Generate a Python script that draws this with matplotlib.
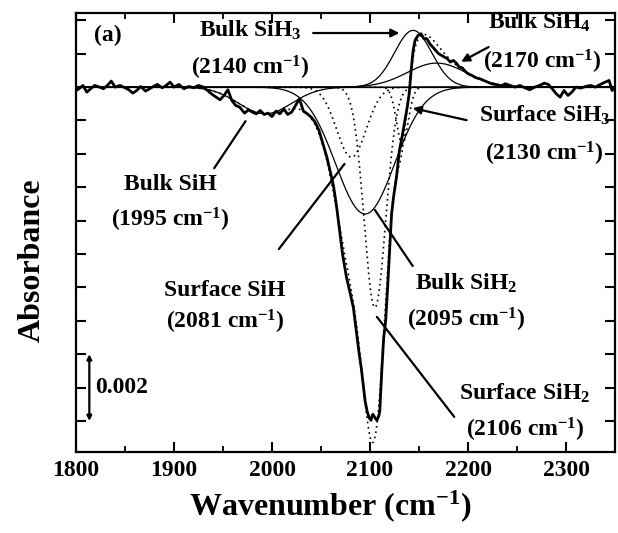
import numpy as np
import matplotlib
matplotlib.use("Agg")
import matplotlib.pyplot as plt
from matplotlib.ticker import MultipleLocator, NullFormatter

plt.rcParams['font.family'] = ['Liberation Serif', 'DejaVu Serif']
plt.rcParams['font.weight'] = 'bold'
plt.rcParams['mathtext.fontset'] = 'custom'
plt.rcParams['mathtext.rm'] = 'Liberation Serif:bold'
plt.rcParams['mathtext.bf'] = 'Liberation Serif:bold'
plt.rcParams['mathtext.it'] = 'Liberation Serif:bold'

# ---- measured spectrum (wavenumber, absorbance in units of 1e-3) ----
wavenumber = [1800, 1803, 1807, 1811, 1815, 1819, 1824, 1828, 1832, 1836, 1840, 1845,
              1850, 1854, 1858, 1862, 1866, 1871, 1875, 1879, 1883, 1888, 1892, 1896,
              1900, 1905, 1910, 1915, 1920, 1925, 1930, 1935, 1939, 1943, 1947, 1951,
              1955, 1959, 1963, 1967, 1972, 1976, 1980, 1984, 1988, 1992, 1996, 2000,
              2004, 2008, 2012, 2016, 2020, 2024, 2028, 2032, 2036, 2040, 2044, 2048,
              2052, 2056, 2060, 2063, 2066, 2069, 2072, 2076, 2080, 2083, 2086, 2089,
              2091, 2093, 2095, 2097, 2099, 2101, 2102, 2103, 2105, 2107, 2109, 2110,
              2112, 2114, 2116, 2118, 2120, 2122, 2124, 2127, 2130, 2133, 2135, 2138,
              2140, 2142, 2144, 2146, 2149, 2152, 2155, 2158, 2161, 2164, 2167, 2170,
              2173, 2176, 2179, 2182, 2185, 2188, 2191, 2194, 2197, 2200, 2204, 2208,
              2212, 2216, 2220, 2224, 2228, 2233, 2238, 2243, 2248, 2253, 2258, 2263,
              2268, 2273, 2278, 2282, 2286, 2290, 2294, 2298, 2302, 2306, 2310, 2315,
              2320, 2325, 2330, 2335, 2340, 2344, 2347, 2350]
absorb_e3 = [-0.10, -0.05, 0.05, -0.15, -0.05, 0.05, 0.00, -0.05, 0.05, 0.18, 0.00, 0.05,
             -0.02, -0.08, -0.18, -0.10, 0.02, -0.12, -0.05, 0.02, 0.08, -0.02, 0.05, 0.15,
             0.00, 0.08, -0.05, 0.02, -0.02, 0.05, 0.00, -0.12, -0.22, -0.30, -0.38, -0.25,
             -0.08, -0.40, -0.55, -0.60, -0.78, -0.68, -0.75, -0.80, -0.70, -0.82, -0.78, -0.88,
             -0.72, -0.80, -0.65, -0.82, -0.75, -0.55, -0.35, -0.72, -0.80, -0.90, -1.05, -1.30,
             -1.70, -2.10, -2.60, -3.00, -3.60, -4.30, -5.00, -5.70, -6.20, -6.60, -7.30, -8.00,
             -8.40, -8.90, -9.40, -9.70, -9.90, -9.98, -9.85, -9.80, -9.90, -9.98, -9.85, -9.70,
             -8.50, -7.50, -7.00, -6.00, -4.90, -3.80, -3.30, -2.70, -1.90, -1.45, -1.10, -0.60,
             -0.20, 0.50, 1.10, 1.40, 1.55, 1.60, 1.45, 1.45, 1.30, 1.20, 1.10, 1.00,
             0.95, 0.90, 0.85, 0.75, 0.80, 0.72, 0.60, 0.58, 0.48, 0.40, 0.35, 0.28,
             0.25, 0.20, 0.15, 0.10, 0.08, 0.02, 0.10, 0.05, 0.00, 0.05, -0.02, -0.08,
             0.00, 0.05, 0.12, 0.08, -0.05, -0.20, -0.30, -0.10, -0.25, -0.15, 0.00, -0.03,
             0.02, 0.05, 0.00, 0.08, 0.15, 0.20, -0.10, -0.05]

# ---- fitted components (centre, amplitude, width) ----
bulk_center = [1993, 2095, 2144, 2168]
bulk_amp = [-0.0008, -0.0038, 0.0017, 0.00072]
bulk_sigma = [27, 30, 19, 30]
surf_center = [2081, 2105, 2133]
surf_amp = [-0.0021, -0.0066, -0.0017]
surf_sigma = [15, 11, 6]

xmin, xmax = 1800, 2350
ymin, ymax = -0.01093, 0.00222

grid = np.linspace(xmin, xmax, 2201)


def gauss(c, a, s):
    return a * np.exp(-(grid - c) ** 2 / (2.0 * s ** 2))


fig = plt.figure(figsize=(6.18, 5.33), dpi=100)
ax = fig.add_axes([76 / 618, (533 - 452) / 533, 539 / 618, 439 / 533])

# zero baseline
ax.axhline(0, color='black', lw=0.9, zorder=1)

total = np.zeros_like(grid)
for c, a, s in zip(bulk_center, bulk_amp, bulk_sigma):
    g = gauss(c, a, s)
    total += g
    ax.plot(grid, g, color='black', lw=0.9, zorder=2)
for c, a, s in zip(surf_center, surf_amp, surf_sigma):
    g = gauss(c, a, s)
    total += g
    ax.plot(grid, g, color='black', lw=1.2, ls=(0, (1, 2.2)), zorder=2)
ax.plot(grid, total, color='black', lw=1.2, ls=(0, (1, 2.2)), zorder=2)

ax.plot(wavenumber, np.array(absorb_e3) * 1e-3, color='black', lw=2.0, zorder=3)

ax.set_xlim(xmin, xmax)
ax.set_ylim(ymin, ymax)
ax.xaxis.set_major_locator(MultipleLocator(100))
ax.xaxis.set_minor_locator(MultipleLocator(50))
ax.yaxis.set_major_locator(MultipleLocator(0.001))
ax.yaxis.set_major_formatter(NullFormatter())
ax.tick_params(axis='both', which='major', direction='in', length=7, width=1.5,
               top=True, right=True, labelsize=17, pad=6)
ax.tick_params(axis='both', which='minor', direction='in', length=4, width=1.3,
               top=True, right=True)
for sp in ax.spines.values():
    sp.set_linewidth(1.6)
for lab in ax.get_xticklabels():
    lab.set_fontweight('bold')

ax.set_xlabel('Wavenumber (cm$^{-1}$)', fontsize=23, fontweight='bold')
ax.set_ylabel('Absorbance', fontsize=23, fontweight='bold')
ax.xaxis.set_label_coords(0.471, -0.082)
ax.yaxis.set_label_coords(-0.055, 0.437)

fs = 17
ax.text(1818, 0.00156, '(a)', fontsize=fs, fontweight='bold', va='center', ha='left')
ax.text(1978, 0.00170, 'Bulk SiH$_3$', fontsize=fs, ha='center', va='center')
ax.text(1978, 0.00057, '(2140 cm$^{-1}$)', fontsize=fs, ha='center', va='center')
ax.text(2273, 0.00195, 'Bulk SiH$_4$', fontsize=fs, ha='center', va='center')
ax.text(2276, 0.00075, '(2170 cm$^{-1}$)', fontsize=fs, ha='center', va='center')
ax.text(2278, -0.00084, 'Surface SiH$_3$', fontsize=fs, ha='center', va='center')
ax.text(2278, -0.00200, '(2130 cm$^{-1}$)', fontsize=fs, ha='center', va='center')
ax.text(1896, -0.00293, 'Bulk SiH', fontsize=fs, ha='center', va='center')
ax.text(1896, -0.00398, '(1995 cm$^{-1}$)', fontsize=fs, ha='center', va='center')
ax.text(1952, -0.00608, 'Surface SiH', fontsize=fs, ha='center', va='center')
ax.text(1952, -0.00704, '(2081 cm$^{-1}$)', fontsize=fs, ha='center', va='center')
ax.text(2198, -0.00587, 'Bulk SiH$_2$', fontsize=fs, ha='center', va='center')
ax.text(2198, -0.00698, '(2095 cm$^{-1}$)', fontsize=fs, ha='center', va='center')
ax.text(2258, -0.00916, 'Surface SiH$_2$', fontsize=fs, ha='center', va='center')
ax.text(2258, -0.01027, '(2106 cm$^{-1}$)', fontsize=fs, ha='center', va='center')

arrow_kw = dict(arrowstyle='-|>', lw=1.6, color='black', mutation_scale=12,
                shrinkA=0, shrinkB=0)
line_kw = dict(arrowstyle='-', lw=1.6, color='black', shrinkA=0, shrinkB=0)
ax.annotate('', xy=(2130, 0.00162), xytext=(2042, 0.00162), arrowprops=arrow_kw)
ax.annotate('', xy=(2193, 0.00076), xytext=(2221, 0.00120), arrowprops=arrow_kw)
ax.annotate('', xy=(2143.6, -0.00063), xytext=(2198.6, -0.00099), arrowprops=arrow_kw)
ax.annotate('', xy=(1973, -0.00102), xytext=(1941, -0.00243), arrowprops=line_kw)
ax.annotate('', xy=(2074, -0.00230), xytext=(2007, -0.00485), arrowprops=line_kw)
ax.annotate('', xy=(2105, -0.00368), xytext=(2143.6, -0.00536), arrowprops=line_kw)
ax.annotate('', xy=(2107, -0.00688), xytext=(2186, -0.00988), arrowprops=line_kw)

# 0.002 scale bar
ax.annotate('', xy=(1813.6, -0.0080), xytext=(1813.6, -0.0100),
            arrowprops=dict(arrowstyle='<|-|>', lw=1.6, color='black',
                            mutation_scale=7, shrinkA=0, shrinkB=0))
ax.text(1819.5, -0.0090, '0.002', fontsize=fs, ha='left', va='center')

fig.savefig('out.png', dpi=100)
